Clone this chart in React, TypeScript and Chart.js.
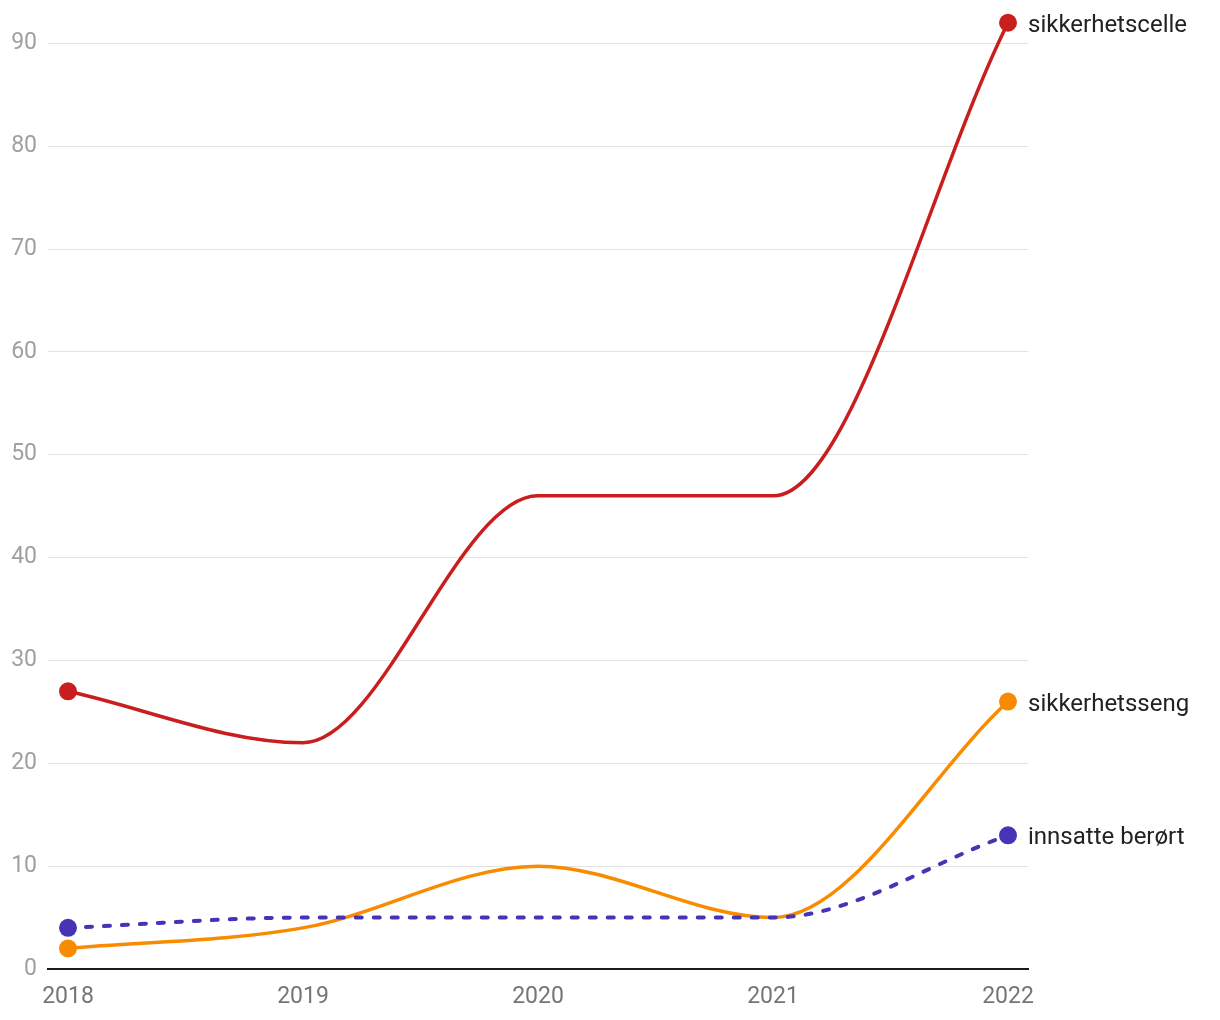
import React, { useEffect, useRef } from "react";
import { Chart, registerables } from "chart.js";

Chart.register(...registerables);

const years = [2018, 2019, 2020, 2021, 2022];
const yTicks = [0, 10, 20, 30, 40, 50, 60, 70, 80, 90];
const seriesNames = ["sikkerhetscelle", "sikkerhetsseng", "innsatte berørt"];
const sikkerhetscelle = [27, 22, 46, 46, 92];
const sikkerhetsseng = [2, 4, 10, 5, 26];
const innsatteBerort = [4, 5, 5, 5, 13];
const colors = ["#c91e1e", "#f98b00", "#4634b6"];

const FONT = "Roboto, 'Noto Sans', sans-serif";

const endLabels = {
  id: "endLabels",
  afterDatasetsDraw(chart: any) {
    const ctx = chart.ctx;
    ctx.save();
    ctx.font = `24px ${FONT}`;
    ctx.fillStyle = "#222222";
    ctx.textAlign = "left";
    ctx.textBaseline = "middle";
    chart.data.datasets.forEach((ds: any, i: number) => {
      const meta = chart.getDatasetMeta(i);
      const pt = meta.data[meta.data.length - 1];
      ctx.fillText(ds.label, pt.x + 20, pt.y + 3);
    });
    ctx.restore();
  },
};

export default function App() {
  const ref = useRef<HTMLCanvasElement>(null);
  useEffect(() => {
    if (!ref.current) return;
    const mk = (vals: number[], i: number, dash: number[] = []) => ({
      label: seriesNames[i],
      data: vals.map((v, k) => ({ x: years[k], y: v })),
      borderColor: colors[i],
      backgroundColor: colors[i],
      borderWidth: dash.length ? 4 : 3.5,
      borderDash: dash,
      borderCapStyle: dash.length ? "round" : "butt",
      pointRadius: vals.map((_, k) => (k === 0 || k === vals.length - 1 ? 9 : 0)),
      pointHoverRadius: 9,
      pointBorderWidth: 0,
      cubicInterpolationMode: "monotone",
      clip: false,
    });
    const chart = new Chart(ref.current, {
      type: "line",
      data: {
        datasets: [
          mk(innsatteBerort, 2, [6, 12]),
          mk(sikkerhetsseng, 1),
          mk(sikkerhetscelle, 0),
        ] as any,
      },
      plugins: [endLabels],
      options: {
        animation: false,
        responsive: false,
        maintainAspectRatio: false,
        layout: { padding: { top: 0, right: 192, left: 0, bottom: 0 } },
        plugins: { legend: { display: false }, tooltip: { enabled: false } },
        scales: {
          x: {
            type: "linear",
            min: 2018 - 20 / 235,
            max: 2022 + 20 / 235,
            afterBuildTicks: (s: any) => {
              s.ticks = years.map((v) => ({ value: v }));
            },
            afterFit: (s: any) => {
              s.height = 51;
            },
            grid: { display: false, drawTicks: false },
            border: { display: true, color: "#1a1a1a", width: 2 },
            ticks: {
              color: "#757575",
              font: { family: FONT, size: 23 },
              padding: 14,
              maxRotation: 0,
              callback: (v: any) => String(v),
            },
          },
          y: {
            type: "linear",
            min: 0,
            max: 91.8,
            afterBuildTicks: (s: any) => {
              s.ticks = yTicks.map((v) => ({ value: v }));
            },
            afterFit: (s: any) => {
              s.width = 48;
            },
            grid: { color: "#e2e2e2", lineWidth: 1, drawTicks: false },
            border: { display: false },
            ticks: {
              color: "#a0a0a0",
              font: { family: FONT, size: 23 },
              padding: 11,
            },
          },
        },
      } as any,
    });
    return () => chart.destroy();
  }, []);
  return (
    <div style={{ position: "fixed", left: 0, top: 0, width: 1220, height: 1020, background: "#fff" }}>
      <canvas ref={ref} width={1220} height={1020} style={{ width: 1220, height: 1020 }} />
    </div>
  );
}
